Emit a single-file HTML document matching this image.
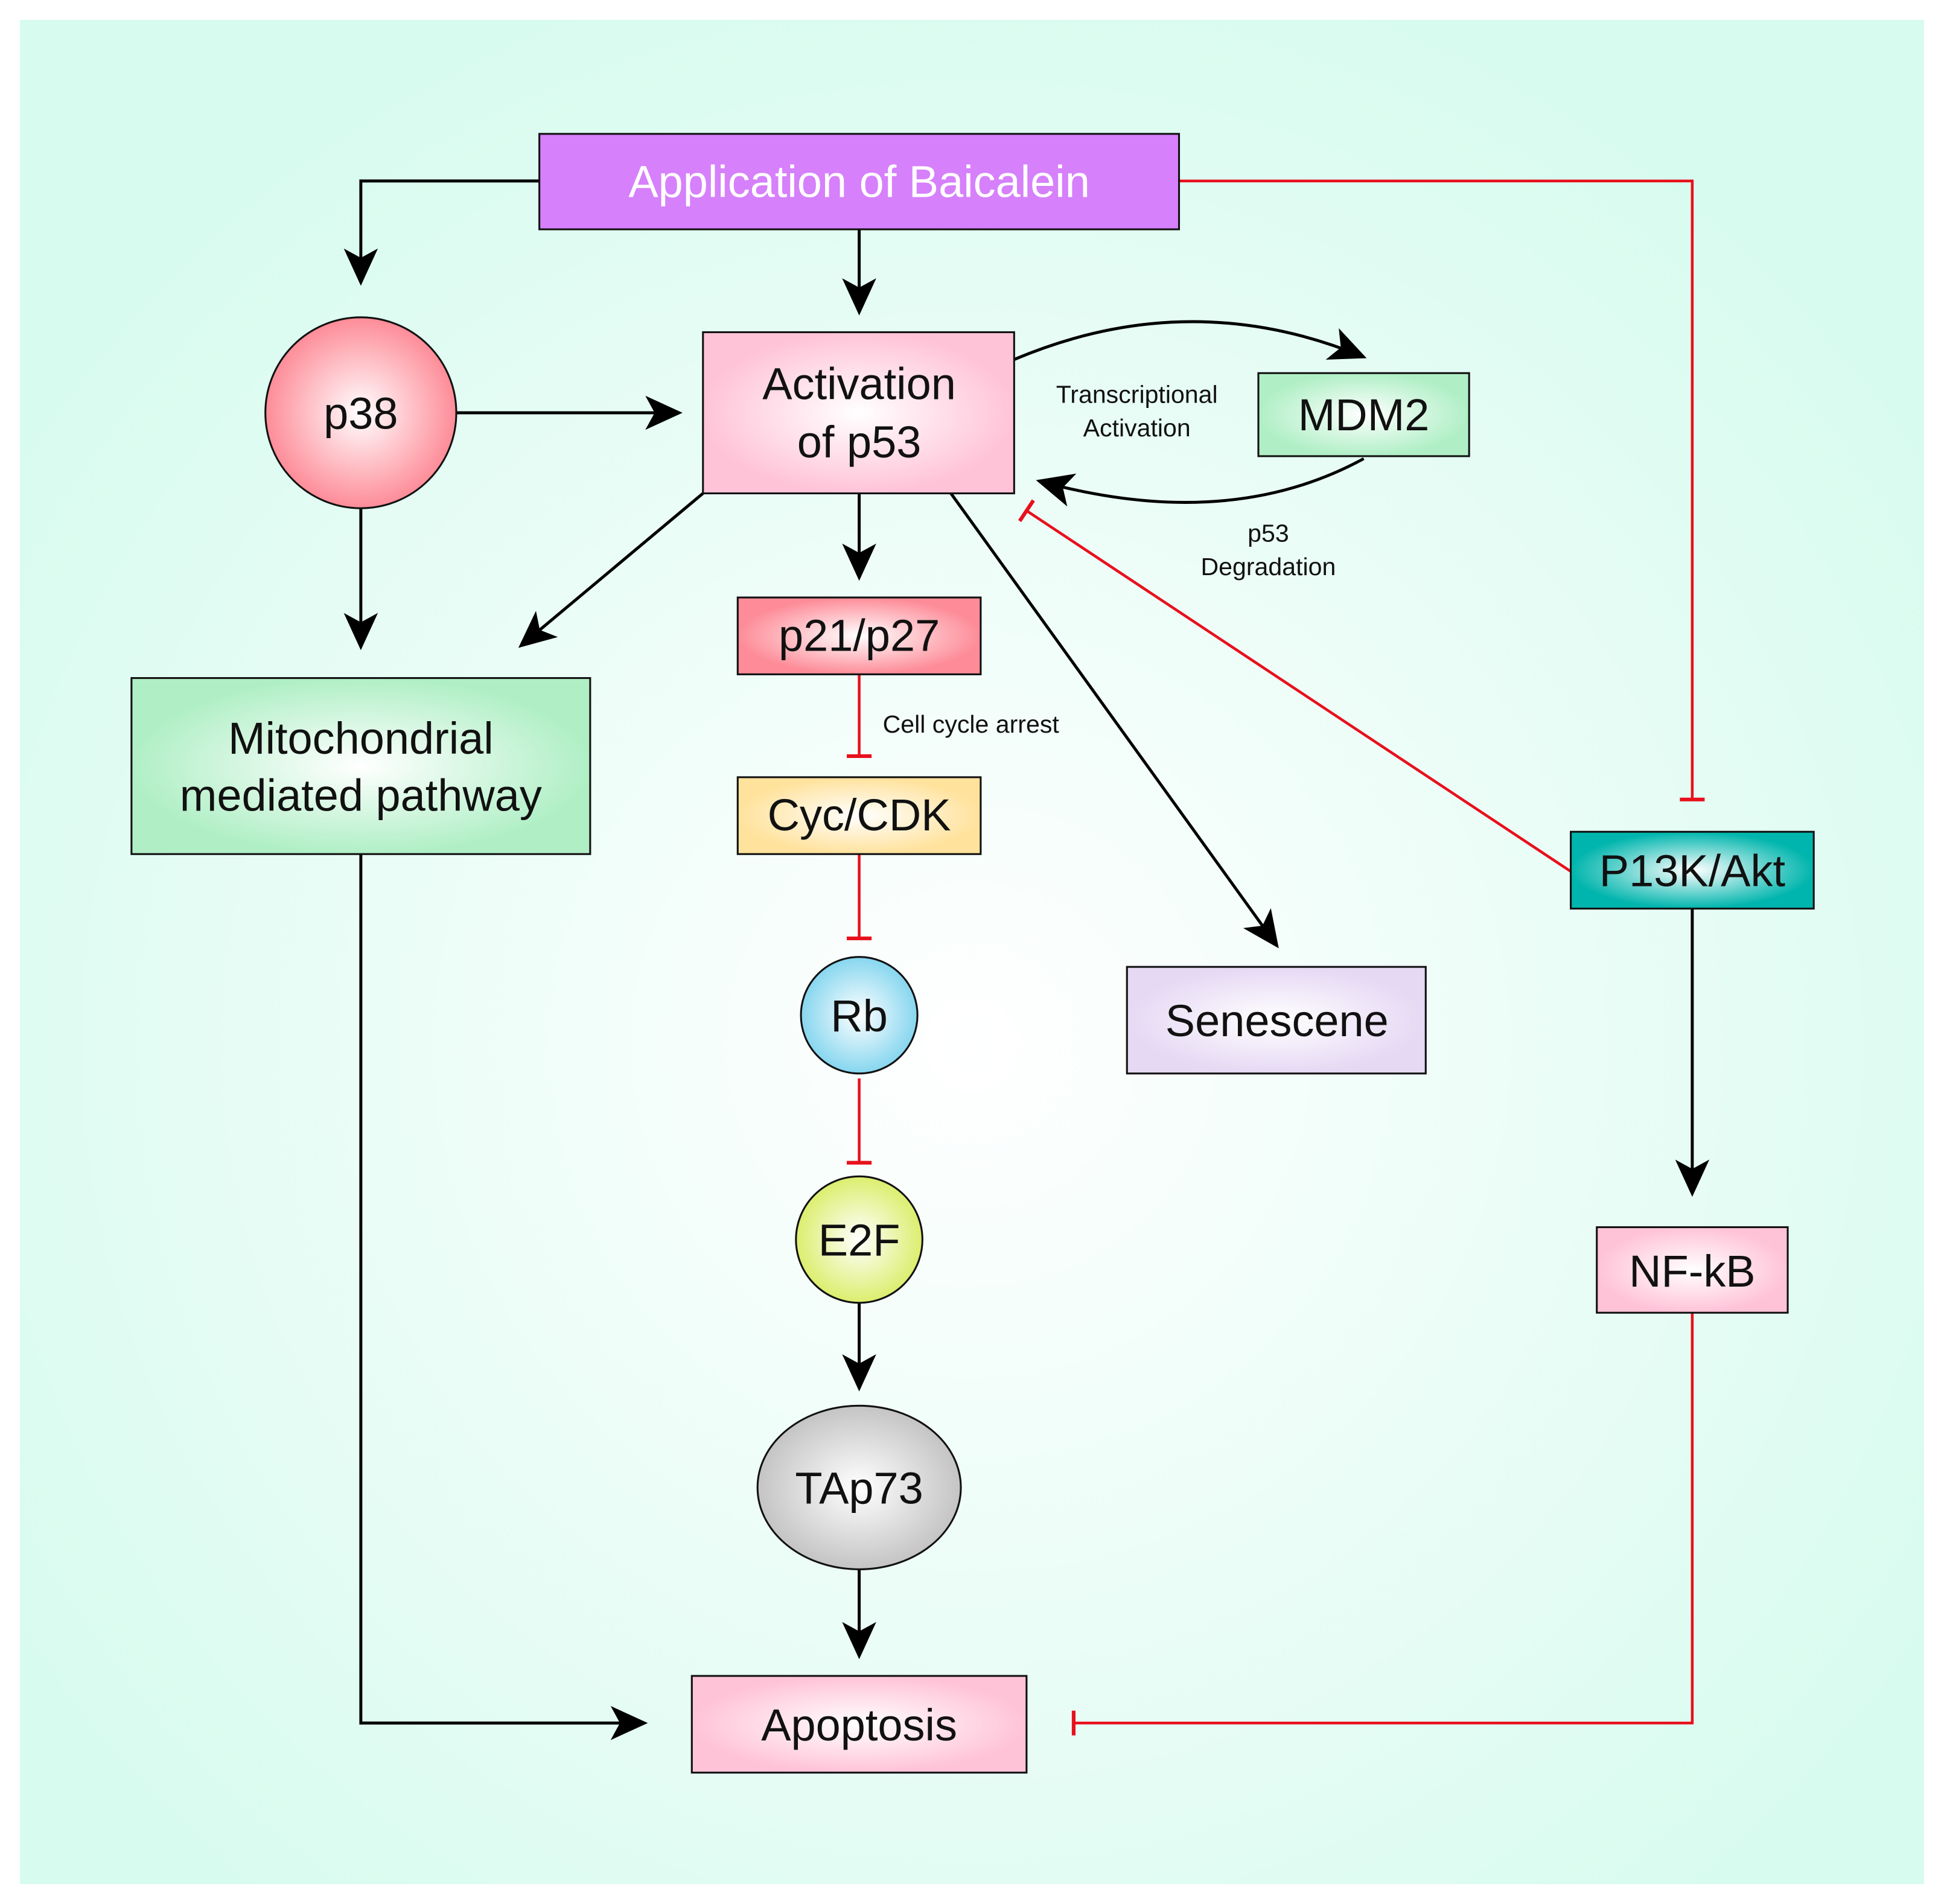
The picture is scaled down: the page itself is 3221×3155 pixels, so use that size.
<!DOCTYPE html>
<html><head><meta charset="utf-8"><style>
html,body{margin:0;padding:0;background:#fff}
svg{display:block}
text{font-family:"Liberation Sans",sans-serif;fill:#111}
</style></head><body>
<svg width="3221" height="3155" viewBox="0 0 1568 1536" xmlns="http://www.w3.org/2000/svg">
<defs>
<radialGradient id="bg" cx="50%" cy="55%" r="60%"><stop offset="0" stop-color="#ffffff"/><stop offset="1" stop-color="#d8fbef"/></radialGradient>
<radialGradient id="pink"><stop offset="0" stop-color="#fff"/><stop offset="1" stop-color="#ffc3d8"/></radialGradient>
<radialGradient id="red"><stop offset="0" stop-color="#fff"/><stop offset="1" stop-color="#fd8c98"/></radialGradient>
<radialGradient id="green"><stop offset="0" stop-color="#fff"/><stop offset="1" stop-color="#b0efc6"/></radialGradient>
<radialGradient id="yel"><stop offset="0" stop-color="#fff"/><stop offset="1" stop-color="#ffe29c"/></radialGradient>
<radialGradient id="blue"><stop offset="0" stop-color="#fff"/><stop offset="1" stop-color="#86d6ef"/></radialGradient>
<radialGradient id="lime"><stop offset="0" stop-color="#fff"/><stop offset="1" stop-color="#dcee6e"/></radialGradient>
<radialGradient id="gray"><stop offset="0" stop-color="#fff"/><stop offset="1" stop-color="#c4c4c4"/></radialGradient>
<radialGradient id="lav"><stop offset="0" stop-color="#fff"/><stop offset="1" stop-color="#e6d9f4"/></radialGradient>
<radialGradient id="teal"><stop offset="0" stop-color="#fff"/><stop offset="1" stop-color="#00b5ad"/></radialGradient>
<marker id="ar" markerUnits="userSpaceOnUse" markerWidth="30" markerHeight="30" viewBox="0 0 24 24" refX="22" refY="12" orient="auto">
<path d="M0,1 L24,12 L0,23 L6,12 Z" fill="#000"/></marker>
<marker id="tb" markerUnits="userSpaceOnUse" markerWidth="24" markerHeight="24" viewBox="0 0 24 24" refX="12" refY="12" orient="auto">
<path d="M12,2 V22" stroke="#e8101c" stroke-width="3"/></marker>
</defs>
<rect x="16" y="16" width="1536" height="1504" fill="url(#bg)"/>
<g fill="none" stroke="#000" stroke-width="2.4">
<path d="M435,146 H291 V228" marker-end="url(#ar)"/>
<path d="M693,185 V252" marker-end="url(#ar)"/>
<path d="M368,333 H548" marker-end="url(#ar)"/>
<path d="M291,410 V522" marker-end="url(#ar)"/>
<path d="M567,398 L420,521" marker-end="url(#ar)"/>
<path d="M693,398 V466" marker-end="url(#ar)"/>
<path d="M767,398 L1030,763" marker-end="url(#ar)"/>
<path d="M818,290 Q960,230 1100,288" marker-end="url(#ar)"/>
<path d="M1100,370 Q990,430 838,388" marker-end="url(#ar)"/>
<path d="M693,1051 V1120" marker-end="url(#ar)"/>
<path d="M693,1266 V1336" marker-end="url(#ar)"/>
<path d="M291,689 V1390 H520" marker-end="url(#ar)"/>
<path d="M1365,733 V963" marker-end="url(#ar)"/>
</g>
<g fill="none" stroke="#e8101c" stroke-width="2.2">
<path d="M951,146 H1365 V645" marker-end="url(#tb)"/>
<path d="M1267,703 L828,412" marker-end="url(#tb)"/>
<path d="M693,544 V610" marker-end="url(#tb)"/>
<path d="M693,689 V757" marker-end="url(#tb)"/>
<path d="M693,870 V938" marker-end="url(#tb)"/>
<path d="M1365,1059 V1390 H866" marker-end="url(#tb)"/>
</g>
<g stroke="#111" stroke-width="1.5">
<rect x="435" y="108" width="516" height="77" fill="#d680fb"/>
<circle cx="291" cy="333" r="77" fill="url(#red)"/>
<rect x="567" y="268" width="251" height="130" fill="url(#pink)"/>
<rect x="1015" y="301" width="170" height="67" fill="url(#green)"/>
<rect x="595" y="482" width="196" height="62" fill="url(#red)"/>
<rect x="595" y="627" width="196" height="62" fill="url(#yel)"/>
<circle cx="693" cy="819" r="47" fill="url(#blue)"/>
<circle cx="693" cy="1000" r="51" fill="url(#lime)"/>
<ellipse cx="693" cy="1200" rx="82" ry="66" fill="url(#gray)"/>
<rect x="558" y="1352" width="270" height="78" fill="url(#pink)"/>
<rect x="106" y="547" width="370" height="142" fill="url(#green)"/>
<rect x="909" y="780" width="241" height="86" fill="url(#lav)"/>
<rect x="1267" y="671" width="196" height="62" fill="url(#teal)"/>
<rect x="1288" y="990" width="154" height="69" fill="url(#pink)"/>
</g>
<g font-size="36" text-anchor="middle">
<text x="693" y="159" style="fill:#fff">Application of Baicalein</text>
<text x="291" y="346">p38</text>
<text x="693" y="322">Activation</text>
<text x="693" y="369">of p53</text>
<text x="1100" y="347">MDM2</text>
<text x="693" y="525">p21/p27</text>
<text x="693" y="670">Cyc/CDK</text>
<text x="693" y="832">Rb</text>
<text x="693" y="1013">E2F</text>
<text x="693" y="1213">TAp73</text>
<text x="693" y="1404">Apoptosis</text>
<text x="291" y="608">Mitochondrial</text>
<text x="291" y="654">mediated pathway</text>
<text x="1030" y="836">Senescene</text>
<text x="1365" y="715">P13K/Akt</text>
<text x="1365" y="1038">NF-kB</text>
</g>
<g font-size="20">
<text x="917" y="325" text-anchor="middle">Transcriptional</text>
<text x="917" y="352" text-anchor="middle">Activation</text>
<text x="1023" y="437" text-anchor="middle">p53</text>
<text x="1023" y="464" text-anchor="middle">Degradation</text>
<text x="712" y="591">Cell cycle arrest</text>
</g>
</svg>
</body></html>
